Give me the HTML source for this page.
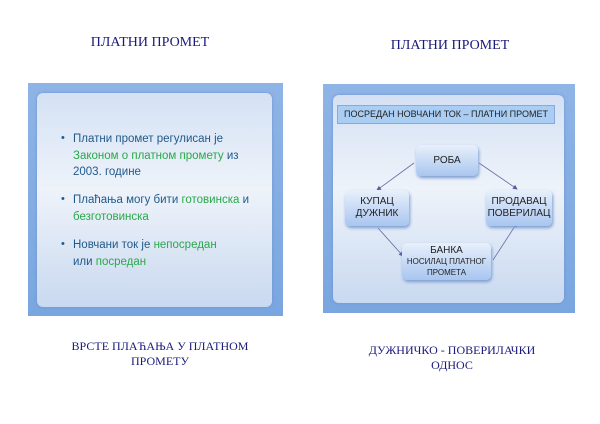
<!DOCTYPE html>
<html><head><meta charset="utf-8"><style>
body{margin:0;width:600px;height:424px;background:#fff;position:relative;overflow:hidden;font-family:"Liberation Sans",sans-serif}
.t{position:absolute;font-family:"Liberation Serif",serif;color:#1a1a7a;text-align:center}
.frame{position:absolute;background:linear-gradient(#8fb4e6,#7aa6e0);}
.panel{position:absolute;border-radius:6px;background:linear-gradient(#d4e1f4,#eef3fa 45%,#c9d9f0);box-shadow:0 0 3px #6d93cf}
.lt{position:absolute;left:73px;font-size:11.5px;color:#1f5a8a;line-height:16.5px;white-space:nowrap}
.g{color:#2aa84a}
.b{position:absolute;left:61px;font-size:11px;color:#1f5a8a}
.box{position:absolute;border-radius:5px;background:linear-gradient(#e8f0fb,#a9c6ef);box-shadow:1px 2px 3px #7a9cd0;font-size:10px;color:#222;text-align:center;display:flex;flex-direction:column;justify-content:center;line-height:12px;white-space:nowrap}
</style></head><body>
<div class="t" style="left:60px;top:35px;width:180px;font-size:14px">ПЛАТНИ ПРОМЕТ</div>
<div class="t" style="left:360px;top:38px;width:180px;font-size:14px">ПЛАТНИ ПРОМЕТ</div>
<div class="t" style="left:40px;top:339px;width:240px;font-size:12px;line-height:15px">ВРСТЕ ПЛАЋАЊА У ПЛАТНОМ<br>ПРОМЕТУ</div>
<div class="t" style="left:332px;top:343px;width:240px;font-size:12px;line-height:15px">ДУЖНИЧКО - ПОВЕРИЛАЧКИ<br>ОДНОС</div>

<div class="frame" style="left:28px;top:83px;width:255px;height:233px"></div>
<div class="panel" style="left:37px;top:93px;width:235px;height:214px"></div>
<div class="b" style="top:132px">•</div>
<div class="lt" style="top:131px">Платни промет регулисан је<br><span class="g">Законом о платном промету</span> из<br>2003. године</div>
<div class="b" style="top:193px">•</div>
<div class="lt" style="top:192px">Плаћања могу бити <span class="g">готовинска</span> и<br><span class="g">безготовинска</span></div>
<div class="b" style="top:238px">•</div>
<div class="lt" style="top:237px">Новчани ток је <span class="g">непосредан</span><br>или <span class="g">посредан</span></div>

<div class="frame" style="left:323px;top:84px;width:252px;height:229px"></div>
<div class="panel" style="left:333px;top:95px;width:231px;height:208px"></div>
<div style="position:absolute;left:337px;top:105px;width:218px;height:19px;background:#a9cdf3;border:1px solid #8aa8d8;box-sizing:border-box;font-size:9px;color:#222;text-align:center;line-height:17px;white-space:nowrap">ПОСРЕДАН НОВЧАНИ ТОК – ПЛАТНИ ПРОМЕТ</div>
<svg style="position:absolute;left:0;top:0" width="600" height="424">
<defs><marker id="a" markerWidth="6" markerHeight="6" refX="5" refY="3" orient="auto"><path d="M0,0L6,3L0,6z" fill="#5a5aa0"/></marker></defs>
<g stroke="#6a6aa8" stroke-width="0.8" fill="none" marker-end="url(#a)">
<line x1="414" y1="163" x2="377" y2="190"/>
<line x1="378" y1="228" x2="403" y2="256"/>
<line x1="493" y1="260" x2="517" y2="223"/>
<line x1="479" y1="163" x2="517" y2="189"/>
</g></svg>
<div class="box" style="left:416px;top:145px;width:62px;height:31px">РОБА</div>
<div class="box" style="left:345px;top:190px;width:64px;height:36px">КУПАЦ<br>ДУЖНИК</div>
<div class="box" style="left:486px;top:190px;width:66px;height:36px">ПРОДАВАЦ<br>ПОВЕРИЛАЦ</div>
<div class="box" style="left:402px;top:243px;width:89px;height:37px;font-size:8px;line-height:11px"><span style="font-size:10px">БАНКА</span>НОСИЛАЦ ПЛАТНОГ<br>ПРОМЕТА</div>
</body></html>
